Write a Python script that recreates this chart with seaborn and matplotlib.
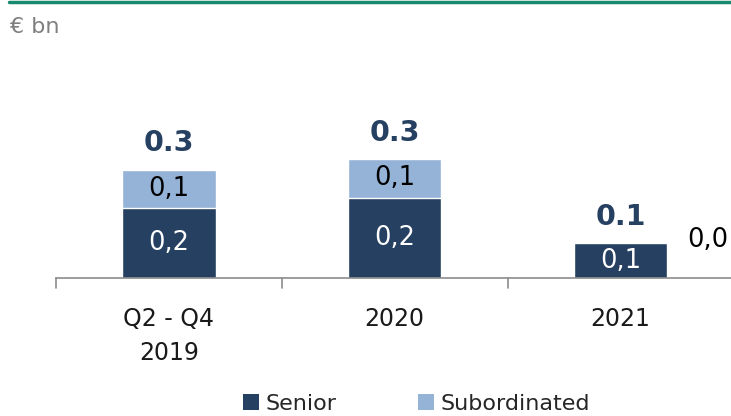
import matplotlib
matplotlib.use("Agg")
import matplotlib.pyplot as plt
import seaborn as sns
import pandas as pd
import numpy as np
from matplotlib.patches import Patch
from matplotlib.lines import Line2D

sns.set_theme(style="white")
plt.rcParams['font.family'] = ['DejaVu Sans']

categories = ["Q2 - Q4\n2019", "2020", "2021"]
senior = [0.20, 0.23, 0.10]
subordinated = [0.11, 0.11, 0.0]
totals = ["0.3", "0.3", "0.1"]
senior_labels = ["0,2", "0,2", "0,1"]
sub_labels = ["0,1", "0,1", "0,0"]

SENIOR_C = "#264061"
SUB_C = "#95b3d7"

df = pd.DataFrame({"cat": categories, "Senior": senior, "Subordinated": subordinated})
df["Total"] = df["Senior"] + df["Subordinated"]

W, H = 731, 416
fig = plt.figure(figsize=(W / 100, H / 100), dpi=100)
ax = fig.add_axes([56 / W, 1 - 278 / H, (W - 56) / W, (278 - 60) / H])

# stacked: draw total first (subordinated colour), then senior on top
sns.barplot(data=df, x="cat", y="Total", color=SUB_C, width=0.415, ax=ax, saturation=1)
sns.barplot(data=df, x="cat", y="Senior", color=SENIOR_C, width=0.415, ax=ax, saturation=1)

ax.set_xlim(-0.5, 2.49)
ax.set_ylim(0, 0.623)
ax.set_xlabel("")
ax.set_ylabel("")
ax.set_yticks([])
for s in ["top", "right", "left"]:
    ax.spines[s].set_visible(False)
ax.spines["bottom"].set_color("#8c8c8c")
ax.spines["bottom"].set_linewidth(1.2)

ax.set_xticks([0, 1, 2])
ax.set_xticklabels(categories, fontsize=17, color="#1a1a1a", linespacing=1.5)
ax.tick_params(axis="x", length=0, pad=21)
for b in [-0.5, 0.5, 1.5]:
    ax.plot([b, b], [0, -0.03], color="#8c8c8c", lw=1.2, clip_on=False,
            transform=ax.transData)

for i in range(3):
    s = senior[i]
    sub = subordinated[i]
    ax.text(i, s / 2, senior_labels[i], ha="center", va="center", color="white",
            fontsize=18.5)
    if sub > 0.02:
        ax.text(i, s + sub / 2, sub_labels[i], ha="center", va="center",
                color="black", fontsize=18.5)
    else:
        ax.text(i + 0.295, s + 0.01, sub_labels[i], ha="left", va="center",
                color="black", fontsize=18.5)
    ax.annotate(totals[i], (i, s + sub), xytext=(0, 9), textcoords="offset points",
                ha="center", va="bottom", color=SENIOR_C, fontsize=20.5,
                fontweight="bold")

# top green rule and unit
fig.add_artist(Line2D([9 / W, 1], [1 - 1.5 / H, 1 - 1.5 / H], color="#1a8a6e",
                      lw=2.5, transform=fig.transFigure))
fig.text(10 / W, 1 - 27 / H, "€ bn", fontsize=16, color="#7f7f7f", va="center",
         ha="left")

handles = [Patch(facecolor=SENIOR_C, edgecolor="none", label="Senior"),
           Patch(facecolor=SUB_C, edgecolor="none", label="Subordinated")]
fig.legend(handles=handles, loc="center left", bbox_to_anchor=(243 / W, 1 - 404 / H),
           ncol=2, frameon=False, fontsize=16, handlelength=0.7, handleheight=0.7,
           handletextpad=0.3, columnspacing=3.7, borderpad=0, borderaxespad=0)

fig.savefig("out.png", dpi=100)
